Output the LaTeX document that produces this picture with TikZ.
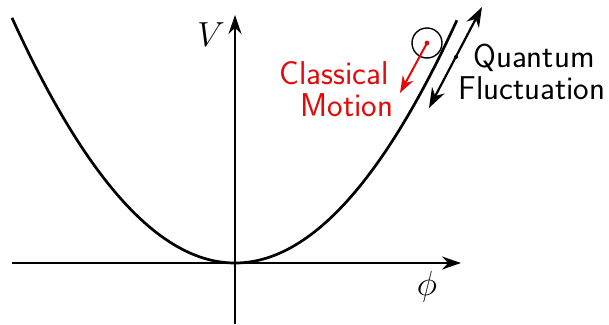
\documentclass[tikz,border=0pt]{standalone}
\usepackage{graphicx}
\usetikzlibrary{arrows.meta}
\definecolor{cred}{RGB}{225,10,10}
\begin{document}
\begin{tikzpicture}[x=1pt,y=-1pt,
  axis/.style={line width=2pt,-{Stealth[length=19pt,width=13pt]}},
  curvestyle/.style={line width=2.7pt},
  lbl/.style={font=\sffamily\fontsize{33}{37}\selectfont,inner sep=0pt,anchor=base},
  mlbl/.style={inner sep=0pt},
  dbl/.style={line width=2.2pt,{Stealth[length=20pt,width=14pt]}-{Stealth[length=20pt,width=14pt]}},
  redarr/.style={line width=2pt,cred,-{Stealth[length=17pt,width=12pt]}}]
\useasboundingbox (0,0) rectangle (609,324);
\coordinate (xs) at (12,263);
\coordinate (xe) at (461,263);
\coordinate (ys) at (235,324);
\coordinate (ye) at (235,15);
\draw[axis] (xs) -- (xe);
\draw[axis] (ys) -- (ye);
\draw[curvestyle,variable=\t,domain=-2.23:2.22,samples=120,smooth] plot ({235+100*\t},{263-49.3*\t*\t});
\node[mlbl] (V) at (211,35) {\scalebox{1.4}{\Huge$V$}};
\node[mlbl] (phi) at (427,287) {\scalebox{1.4}{\Huge$\phi$}};
\node[draw,circle,minimum size=30pt,line width=1.4pt,inner sep=0pt] (ball) at (427,43) {};
\fill[cred] (ball.center) circle (2.4pt);
\coordinate (rend) at (400,93);
\draw[redarr] (ball.center) -- (rend);
\node[lbl,text=cred] (cl) at (334,84) {Classical};
\node[lbl,text=cred] (mo) at (347,116) {Motion};
\coordinate (qa) at (429,108);
\coordinate (qb) at (482,7);
\draw[dbl] (qa) -- (qb);
\fill (456,57) circle (2pt);
\node[lbl] (qu) at (534,67) {Quantum};
\node[lbl] (fl) at (532,99) {Fluctuation};
\end{tikzpicture}
\end{document}
